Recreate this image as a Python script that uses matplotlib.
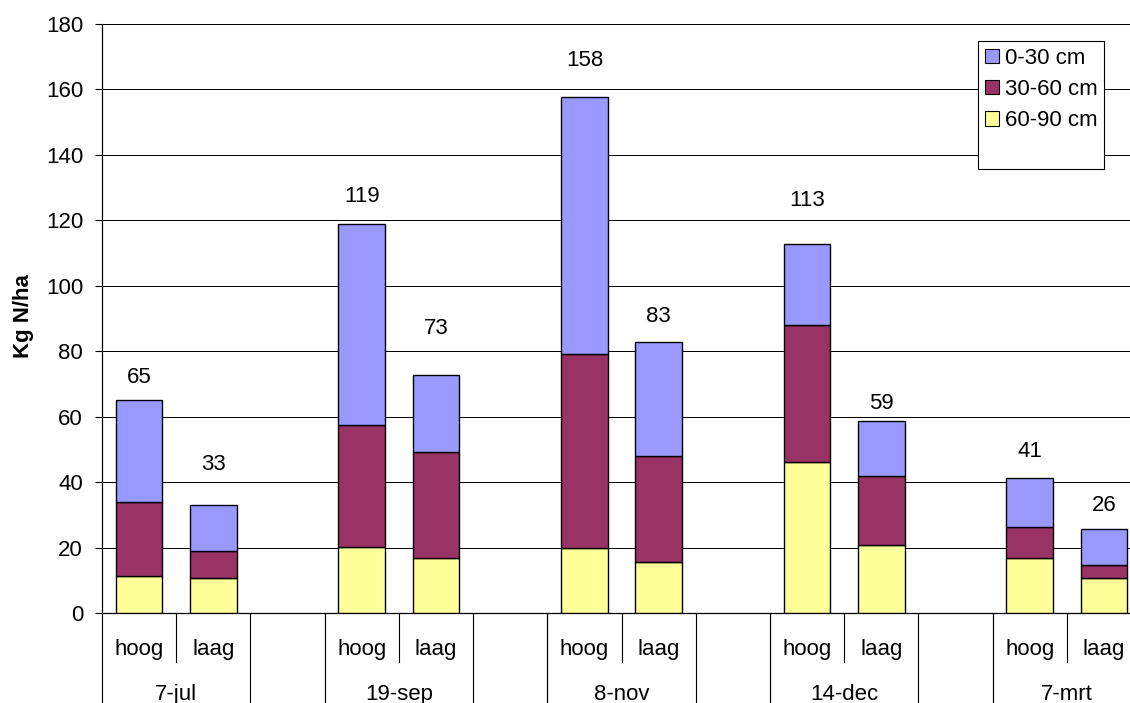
import numpy as np
import matplotlib
matplotlib.use('Agg')
import matplotlib.pyplot as plt
from matplotlib.patches import Patch
import matplotlib.transforms as mtransforms

plt.rcParams['font.family'] = ['Liberation Sans', 'DejaVu Sans']

# data
dates = ['7-jul', '19-sep', '8-nov', '14-dec', '7-mrt']
levels = ['hoog', 'laag']
layer_names = ['0-30 cm', '30-60 cm', '60-90 cm']
# per bar: 7-jul hoog, 7-jul laag, 19-sep hoog, ...
layer_0_30 = [31.2, 14.0, 61.2, 23.4, 78.4, 34.7, 24.8, 16.9, 15.0, 10.8]
layer_30_60 = [22.7, 8.3, 37.3, 32.5, 59.5, 32.4, 42.0, 20.9, 9.6, 4.1]
layer_60_90 = [11.3, 10.6, 20.3, 16.7, 19.8, 15.6, 46.0, 20.9, 16.7, 10.7]
# the total labels were placed by hand above each bar (value units above the top)
label_offset = [5.0, 10.8, 6.8, 12.7, 9.4, 6.2, 11.6, 3.6, 6.4, 5.6]

colors = {'0-30 cm': '#9999FF', '30-60 cm': '#993366', '60-90 cm': '#FFFF99'}
fs = 16

fig = plt.figure(figsize=(11.3, 7.03), dpi=100)
W, H = 1130.0, 703.0
ax = fig.add_axes([102 / W, 1 - 613 / H, 1039 / W, 589 / H])

# slot layout: hoog, laag, blank, hoog, laag, blank, ...
xpos = []
for i in range(len(dates)):
    xpos += [3 * i, 3 * i + 1]
xpos = np.array(xpos)
nslots = 3 * len(dates) - 1

y60 = np.array(layer_60_90)
y30 = np.array(layer_30_60)
y0 = np.array(layer_0_30)
bw = 0.63
ax.bar(xpos, y60, bw, color=colors['60-90 cm'], edgecolor='black', linewidth=1.0, zorder=3)
ax.bar(xpos, y30, bw, bottom=y60, color=colors['30-60 cm'], edgecolor='black', linewidth=1.0, zorder=3)
ax.bar(xpos, y0, bw, bottom=y60 + y30, color=colors['0-30 cm'], edgecolor='black', linewidth=1.0, zorder=3)

totals = y60 + y30 + y0
for x, t, off in zip(xpos, totals, label_offset):
    ax.text(x, t + off, '%d' % int(t + 0.5), ha='center', va='baseline', fontsize=fs)

ax.set_xlim(-0.5, nslots - 0.5)
ax.set_ylim(0, 180)
ax.set_yticks(np.arange(0, 181, 20))
ax.yaxis.grid(True, color='black', linewidth=0.72)
ax.set_axisbelow(True)
ax.tick_params(axis='y', direction='out', length=4.8, width=0.8, pad=8.8, labelsize=fs)
ax.set_xticks([])
for s in ['top', 'right']:
    ax.spines[s].set_visible(False)
ax.spines['left'].set_linewidth(0.9)
ax.spines['bottom'].set_linewidth(0.9)

# multi level category axis
trans = mtransforms.blended_transform_factory(ax.transData, ax.transAxes)
short_end = -(661.7 - 613) / 589
long_end = -0.2
for i in range(len(dates)):
    a = 3 * i
    ax.plot([a + 0.5, a + 0.5], [0, short_end], color='black', lw=0.8, transform=trans, clip_on=False)
    for b in [a - 0.5, a + 1.5]:
        ax.plot([b, b], [0, long_end], color='black', lw=0.8, transform=trans, clip_on=False)
    ax.plot([a + 2.5, a + 2.5], [0, long_end], color='black', lw=0.8, transform=trans, clip_on=False)
    for j, lv in enumerate(levels):
        ax.text(a + j, -(655 - 613) / 589, lv, ha='center', va='baseline', fontsize=fs,
                transform=trans)
    ax.text(a + 0.5, -(700 - 613) / 589, dates[i], ha='center', va='baseline', fontsize=fs,
            transform=trans)

fig.text(23 / W, 1 - 316 / H, 'Kg N/ha', rotation=90, ha='center', va='center',
         fontsize=fs, fontweight='bold')

handles = [Patch(facecolor=colors[n], edgecolor='black', linewidth=0.8) for n in layer_names]
handles.append(Patch(facecolor='none', edgecolor='none'))
leg = ax.legend(handles, layer_names + [' '], loc='upper left',
                bbox_to_anchor=(978 / W, 1 - 41 / H), bbox_transform=fig.transFigure,
                borderaxespad=0, fontsize=fs, frameon=True, fancybox=False, shadow=False,
                handlelength=0.63, handleheight=0.63, handletextpad=0.27,
                labelspacing=0.46, borderpad=0.3)
leg.get_frame().set_edgecolor('black')
leg.get_frame().set_linewidth(0.8)
leg.get_frame().set_alpha(1)
leg.set_zorder(5)

fig.savefig('out.png', dpi=100)
